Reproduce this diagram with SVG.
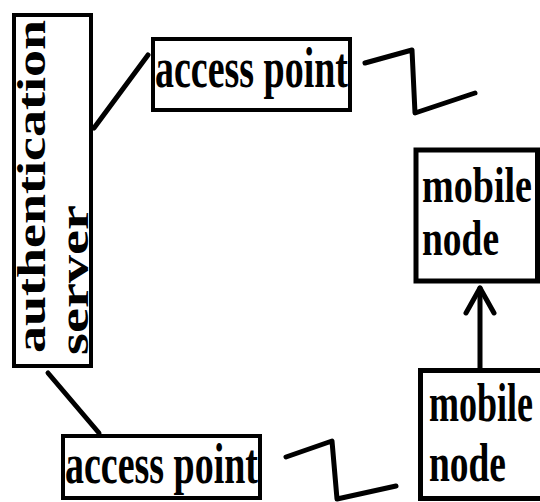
<svg xmlns="http://www.w3.org/2000/svg" width="540" height="502" viewBox="0 0 540 502">
  <style>
    .box { fill: #ffffff; stroke: #000000; stroke-width: 4; }
    .thick { stroke-width: 5; }
    .lbl { font-family: "Liberation Serif", "Times New Roman", serif; font-weight: bold; fill: #000000; }
    .wire { fill: none; stroke: #000000; stroke-width: 5; stroke-linecap: round; stroke-linejoin: round; }
  </style>
  <rect width="540" height="502" fill="#ffffff"/>

  <!-- links between the boxes -->
  <g id="connectors">
    <line class="wire" x1="148" y1="55" x2="94" y2="128"/>
    <line class="wire" x1="48" y1="373" x2="99" y2="433"/>
    <polyline class="wire" points="365,63 412,50 415,113 475,93"/>
    <polyline class="wire" points="286,457 332,441 337,499 396,486"/>
    <line class="wire" x1="480" y1="370" x2="480" y2="288"/>
    <polyline class="wire" points="466,313 480,288 494,313"/>
  </g>

  <g id="auth-server">
    <rect class="box" x="14" y="15" width="77" height="351"/>
    <text class="lbl" font-size="40" transform="translate(45,353) rotate(-90)" textLength="333" lengthAdjust="spacingAndGlyphs">authentication</text>
    <text class="lbl" font-size="40" transform="translate(88,355) rotate(-90)" textLength="150" lengthAdjust="spacingAndGlyphs">server</text>
  </g>

  <g id="access-point-top">
    <rect class="box" x="153" y="39" width="197" height="71"/>
    <text class="lbl" x="155" y="87" font-size="58" textLength="193" lengthAdjust="spacingAndGlyphs">access point</text>
  </g>

  <g id="access-point-bottom">
    <rect class="box" x="63" y="436" width="197" height="62"/>
    <text class="lbl" x="65" y="483" font-size="58" textLength="193" lengthAdjust="spacingAndGlyphs">access point</text>
  </g>

  <g id="mobile-node-top">
    <rect class="box thick" x="416" y="150" width="121.5" height="131"/>
    <text class="lbl" x="422" y="202" font-size="50" textLength="110" lengthAdjust="spacingAndGlyphs">mobile</text>
    <text class="lbl" x="422" y="255" font-size="50" textLength="77" lengthAdjust="spacingAndGlyphs">node</text>
  </g>

  <g id="mobile-node-bottom">
    <rect class="box thick" x="420.5" y="370.5" width="130" height="128"/>
    <text class="lbl" x="429" y="421" font-size="54" textLength="104" lengthAdjust="spacingAndGlyphs">mobile</text>
    <text class="lbl" x="429" y="481" font-size="54" textLength="77" lengthAdjust="spacingAndGlyphs">node</text>
  </g>
</svg>
